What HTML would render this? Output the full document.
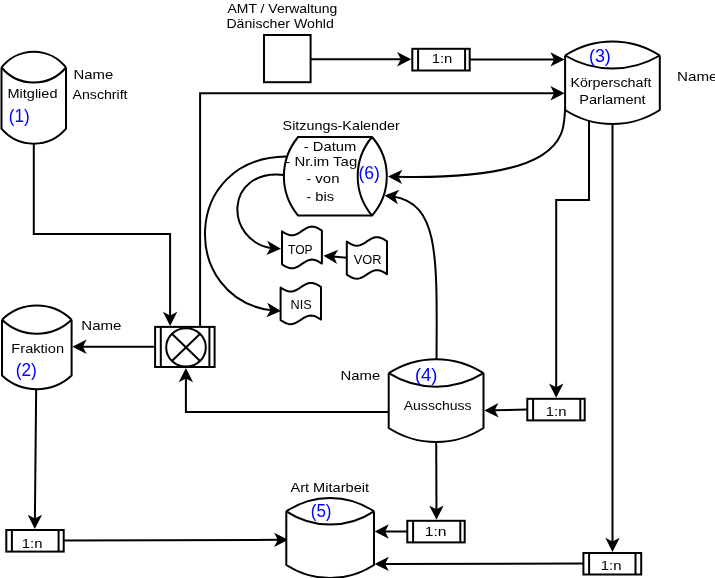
<!DOCTYPE html>
<html><head><meta charset="utf-8"><style>html,body{margin:0;padding:0;background:#fff;overflow:hidden}svg{display:block;will-change:transform}text{font-family:"Liberation Sans",sans-serif}</style></head>
<body><svg width="715" height="578" viewBox="0 0 715 578">
<rect width="715" height="578" fill="#fff"/>
<path d="M33.8 140 L33.8 234 L170.1 234 L170.1 316.9" fill="none" stroke="#000" stroke-width="2" stroke-linejoin="miter"/>
<path d="M170.1 325.9 L162.9 311.7 L170.1 315.4 L177.3 311.7 Z" fill="#000" stroke="none"/>
<path d="M200.1 326.9 L200.1 93.3 L555.6 93.3" fill="none" stroke="#000" stroke-width="2" stroke-linejoin="miter"/>
<path d="M564.6 93.3 L550.4 100.5 L554.1 93.3 L550.4 86.1 Z" fill="#000" stroke="none"/>
<path d="M310.6 59.2 L402.3 59.2" fill="none" stroke="#000" stroke-width="2" stroke-linejoin="miter"/>
<path d="M411.3 59.2 L397.1 66.4 L400.8 59.2 L397.1 52 Z" fill="#000" stroke="none"/>
<path d="M469.7 59.4 L555.6 59.4" fill="none" stroke="#000" stroke-width="2" stroke-linejoin="miter"/>
<path d="M564.6 59.4 L550.4 66.6 L554.1 59.4 L550.4 52.2 Z" fill="#000" stroke="none"/>
<rect x="264" y="35" width="46.6" height="47.2" fill="#fff" stroke="#000" stroke-width="2"/>
<path d="M565.4 108 C561.76 125.62 579.81 180.81 397 176.74" fill="none" stroke="#000" stroke-width="2"/>
<path d="M388 176.5 L402.39 169.69 L398.5 176.78 L402 184.08 Z" fill="#000" stroke="none"/>
<path d="M436.5 366 C437.07 256.17 439.59 204.37 393.45 196.46" fill="none" stroke="#000" stroke-width="2"/>
<path d="M384.5 195.5 L399.39 189.85 L394.94 196.62 L397.85 204.17 Z" fill="#000" stroke="none"/>
<path d="M589 112 L589 200 L556.2 200 L556.2 388.8" fill="none" stroke="#000" stroke-width="2" stroke-linejoin="miter"/>
<path d="M556.2 397.8 L549 383.6 L556.2 387.3 L563.4 383.6 Z" fill="#000" stroke="none"/>
<path d="M612.5 112 L612.5 543" fill="none" stroke="#000" stroke-width="2" stroke-linejoin="miter"/>
<path d="M612.5 552 L605.3 537.8 L612.5 541.5 L619.7 537.8 Z" fill="#000" stroke="none"/>
<path d="M527.3 409.5 L493.3 410.37" fill="none" stroke="#000" stroke-width="2" stroke-linejoin="miter"/>
<path d="M484.3 410.6 L498.31 403.04 L494.8 410.33 L498.68 417.43 Z" fill="#000" stroke="none"/>
<path d="M388.7 412 L185.9 412 L185.9 377" fill="none" stroke="#000" stroke-width="2" stroke-linejoin="miter"/>
<path d="M185.9 368 L193.1 382.2 L185.9 378.5 L178.7 382.2 Z" fill="#000" stroke="none"/>
<path d="M155.1 346.8 L81.4 346.8" fill="none" stroke="#000" stroke-width="2" stroke-linejoin="miter"/>
<path d="M72.4 346.8 L86.6 339.6 L82.9 346.8 L86.6 354 Z" fill="#000" stroke="none"/>
<path d="M36.2 385 L34.89 520" fill="none" stroke="#000" stroke-width="2" stroke-linejoin="miter"/>
<path d="M34.8 529 L27.74 514.73 L34.9 518.5 L42.14 514.87 Z" fill="#000" stroke="none"/>
<path d="M63.7 540.4 L279.3 539.82" fill="none" stroke="#000" stroke-width="2" stroke-linejoin="miter"/>
<path d="M288.3 539.8 L274.12 547.04 L277.8 539.83 L274.08 532.64 Z" fill="#000" stroke="none"/>
<path d="M436.2 440 L436.47 510.8" fill="none" stroke="#000" stroke-width="2" stroke-linejoin="miter"/>
<path d="M436.5 519.8 L429.25 505.63 L436.46 509.3 L443.65 505.57 Z" fill="#000" stroke="none"/>
<path d="M407.3 531.5 L383.6 531.5" fill="none" stroke="#000" stroke-width="2" stroke-linejoin="miter"/>
<path d="M374.6 531.5 L388.8 524.3 L385.1 531.5 L388.8 538.7 Z" fill="#000" stroke="none"/>
<path d="M583.4 563.6 L383.6 563.89" fill="none" stroke="#000" stroke-width="2" stroke-linejoin="miter"/>
<path d="M374.6 563.9 L388.79 556.68 L385.1 563.88 L388.81 571.08 Z" fill="#000" stroke="none"/>
<path d="M286 156.5 C180.72 157.86 180.13 299.52 272.02 310.37" fill="none" stroke="#000" stroke-width="2"/>
<path d="M281 311 L266.33 317.19 L270.53 310.27 L267.34 302.83 Z" fill="#000" stroke="none"/>
<path d="M284 174.9 C223.68 168.58 224.31 241.29 272.01 248.2" fill="none" stroke="#000" stroke-width="2"/>
<path d="M281 248.7 L266.42 255.09 L270.52 248.11 L267.23 240.72 Z" fill="#000" stroke="none"/>
<path d="M346.8 257.7 L332.47 256.47" fill="none" stroke="#000" stroke-width="2" stroke-linejoin="miter"/>
<path d="M323.5 255.7 L338.26 249.74 L333.96 256.6 L337.03 264.09 Z" fill="#000" stroke="none"/>
<path d="M1.5 67.5 A40.81 40.81 0 0 1 66 67.5 L66 128.7 A42.17 42.17 0 0 1 1.5 128.7 Z" fill="#fff" stroke="none"/>
<path d="M1.5 67.5 A40.81 40.81 0 0 1 66 67.5" fill="none" stroke="#000" stroke-width="2" stroke-linejoin="miter"/>
<path d="M1.5 67.5 A42.17 42.17 0 0 0 66 67.5" fill="none" stroke="#000" stroke-width="2" stroke-linejoin="miter"/>
<path d="M1.5 67.5 L1.5 128.7 A42.17 42.17 0 0 0 66 128.7 L66 67.5" fill="none" stroke="#000" stroke-width="2" stroke-linejoin="miter"/>
<path d="M2 319.7 A49.74 49.74 0 0 1 71.6 319.7 L71.6 375.5 A51.05 51.05 0 0 1 2 375.5 Z" fill="#fff" stroke="none"/>
<path d="M2 319.7 A49.74 49.74 0 0 1 71.6 319.7" fill="none" stroke="#000" stroke-width="2" stroke-linejoin="miter"/>
<path d="M2 319.7 A50.25 50.25 0 0 0 71.6 319.7" fill="none" stroke="#000" stroke-width="2" stroke-linejoin="miter"/>
<path d="M2 319.7 L2 375.5 A51.05 51.05 0 0 0 71.6 375.5 L71.6 319.7" fill="none" stroke="#000" stroke-width="2" stroke-linejoin="miter"/>
<path d="M565.1 55.5 A87.07 87.07 0 0 1 659.8 55.5 L659.8 110 A87.07 87.07 0 0 1 565.1 110 Z" fill="#fff" stroke="none"/>
<path d="M565.1 55.5 A87.07 87.07 0 0 1 659.8 55.5" fill="none" stroke="#000" stroke-width="2" stroke-linejoin="miter"/>
<path d="M565.1 55.5 A92.73 92.73 0 0 0 659.8 55.5" fill="none" stroke="#000" stroke-width="2" stroke-linejoin="miter"/>
<path d="M565.1 55.5 L565.1 110 A87.07 87.07 0 0 0 659.8 110 L659.8 55.5" fill="none" stroke="#000" stroke-width="2" stroke-linejoin="miter"/>
<path d="M388.7 373.2 A87.24 87.24 0 0 1 483.5 373.2 L483.5 428 A87.24 87.24 0 0 1 388.7 428 Z" fill="#fff" stroke="none"/>
<path d="M388.7 373.2 A87.24 87.24 0 0 1 483.5 373.2" fill="none" stroke="#000" stroke-width="2" stroke-linejoin="miter"/>
<path d="M388.7 373.2 A89.96 89.96 0 0 0 483.5 373.2" fill="none" stroke="#000" stroke-width="2" stroke-linejoin="miter"/>
<path d="M388.7 373.2 L388.7 428 A87.24 87.24 0 0 0 483.5 428 L483.5 373.2" fill="none" stroke="#000" stroke-width="2" stroke-linejoin="miter"/>
<path d="M286.3 511.3 A78.45 78.45 0 0 1 374 511.3 L374 565 A80.45 80.45 0 0 1 286.3 565 Z" fill="#fff" stroke="none"/>
<path d="M286.3 511.3 A78.45 78.45 0 0 1 374 511.3" fill="none" stroke="#000" stroke-width="2" stroke-linejoin="miter"/>
<path d="M286.3 511.3 A79.43 79.43 0 0 0 374 511.3" fill="none" stroke="#000" stroke-width="2" stroke-linejoin="miter"/>
<path d="M286.3 511.3 L286.3 565 A80.45 80.45 0 0 0 374 565 L374 511.3" fill="none" stroke="#000" stroke-width="2" stroke-linejoin="miter"/>
<path d="M298.1 137 L372 137 A59.58 59.58 0 0 1 372 215.6 L298.1 215.6 A61.48 61.48 0 0 1 298.1 137 Z" fill="#fff" stroke="#000" stroke-width="2"/>
<path d="M372 137 A61.15 61.15 0 0 0 372 215.6" fill="none" stroke="#000" stroke-width="2" stroke-linejoin="miter"/>
<rect x="155.1" y="326.9" width="59.5" height="40.10000000000002" fill="#fff" stroke="#000" stroke-width="2"/>
<path d="M160.8 326.9 L160.8 367 M209.4 326.9 L209.4 367" fill="none" stroke="#000" stroke-width="2" stroke-linejoin="miter"/>
<ellipse cx="186" cy="347.4" rx="19.8" ry="19.2" fill="#fff" stroke="#000" stroke-width="2"/>
<path d="M171.9 333.8 L200.1 361 M200.1 333.8 L171.9 361" fill="none" stroke="#000" stroke-width="2" stroke-linejoin="miter"/>
<rect x="412.3" y="48.8" width="57.39999999999998" height="21.700000000000003" fill="#fff" stroke="#000" stroke-width="2"/>
<path d="M418.1 48.8 L418.1 70.5 M465.1 48.8 L465.1 70.5" fill="none" stroke="#000" stroke-width="2" stroke-linejoin="miter"/>
<rect x="527.3" y="398.8" width="57.40000000000009" height="21.599999999999966" fill="#fff" stroke="#000" stroke-width="2"/>
<path d="M533.1 398.8 L533.1 420.4 M580.3 398.8 L580.3 420.4" fill="none" stroke="#000" stroke-width="2" stroke-linejoin="miter"/>
<rect x="6.3" y="530" width="57.400000000000006" height="21.600000000000023" fill="#fff" stroke="#000" stroke-width="2"/>
<path d="M11.9 530 L11.9 551.6 M58.6 530 L58.6 551.6" fill="none" stroke="#000" stroke-width="2" stroke-linejoin="miter"/>
<rect x="407.3" y="520.8" width="57.39999999999998" height="21.600000000000023" fill="#fff" stroke="#000" stroke-width="2"/>
<path d="M413.1 520.8 L413.1 542.4 M460.3 520.8 L460.3 542.4" fill="none" stroke="#000" stroke-width="2" stroke-linejoin="miter"/>
<rect x="583.4" y="553" width="57.80000000000007" height="21.5" fill="#fff" stroke="#000" stroke-width="2"/>
<path d="M589.1 553 L589.1 574.5 M635.5 553 L635.5 574.5" fill="none" stroke="#000" stroke-width="2" stroke-linejoin="miter"/>
<path d="M282 231.3 L283.66 232.36 L285.32 233.34 L286.99 234.18 L288.65 234.82 L290.31 235.21 L291.98 235.32 L293.64 235.15 L295.3 234.7 L296.96 234.01 L298.62 233.11 L300.29 232.07 L301.95 230.95 L303.61 229.83 L305.27 228.79 L306.94 227.89 L308.6 227.2 L310.26 226.75 L311.92 226.58 L313.59 226.69 L315.25 227.08 L316.91 227.72 L318.57 228.56 L320.24 229.54 L321.9 230.6 L321.9 263.6 L320.24 262.54 L318.57 261.56 L316.91 260.72 L315.25 260.08 L313.59 259.69 L311.92 259.58 L310.26 259.75 L308.6 260.2 L306.94 260.89 L305.27 261.79 L303.61 262.83 L301.95 263.95 L300.29 265.07 L298.62 266.11 L296.96 267.01 L295.3 267.7 L293.64 268.15 L291.98 268.32 L290.31 268.21 L288.65 267.82 L286.99 267.18 L285.32 266.34 L283.66 265.36 L282 264.3 Z" fill="#fff" stroke="#000" stroke-width="2" stroke-linejoin="round"/>
<path d="M346.8 241.6 L348.48 242.67 L350.15 243.67 L351.82 244.53 L353.5 245.19 L355.18 245.59 L356.85 245.72 L358.53 245.57 L360.2 245.14 L361.88 244.46 L363.55 243.57 L365.23 242.55 L366.9 241.45 L368.57 240.35 L370.25 239.33 L371.93 238.44 L373.6 237.76 L375.27 237.33 L376.95 237.18 L378.62 237.31 L380.3 237.71 L381.98 238.37 L383.65 239.23 L385.32 240.23 L387 241.3 L387 274.3 L385.32 273.23 L383.65 272.23 L381.98 271.37 L380.3 270.71 L378.62 270.31 L376.95 270.18 L375.27 270.33 L373.6 270.76 L371.93 271.44 L370.25 272.33 L368.57 273.35 L366.9 274.45 L365.23 275.55 L363.55 276.57 L361.88 277.46 L360.2 278.14 L358.53 278.57 L356.85 278.73 L355.18 278.59 L353.5 278.19 L351.82 277.53 L350.15 276.67 L348.48 275.67 L346.8 274.6 Z" fill="#fff" stroke="#000" stroke-width="2" stroke-linejoin="round"/>
<path d="M280.6 287.5 L282.28 288.57 L283.97 289.56 L285.65 290.41 L287.33 291.05 L289.02 291.45 L290.7 291.57 L292.38 291.41 L294.07 290.97 L295.75 290.28 L297.43 289.39 L299.12 288.36 L300.8 287.25 L302.48 286.14 L304.17 285.11 L305.85 284.22 L307.53 283.53 L309.22 283.09 L310.9 282.93 L312.58 283.05 L314.27 283.45 L315.95 284.09 L317.63 284.94 L319.32 285.93 L321 287 L321 319.6 L319.32 318.53 L317.63 317.54 L315.95 316.69 L314.27 316.05 L312.58 315.65 L310.9 315.53 L309.22 315.69 L307.53 316.13 L305.85 316.82 L304.17 317.71 L302.48 318.74 L300.8 319.85 L299.12 320.96 L297.43 321.99 L295.75 322.88 L294.07 323.57 L292.38 324.01 L290.7 324.18 L289.02 324.05 L287.33 323.65 L285.65 323.01 L283.97 322.16 L282.28 321.17 L280.6 320.1 Z" fill="#fff" stroke="#000" stroke-width="2" stroke-linejoin="round"/>
<text x="7.48" y="98" font-size="13" fill="#000" textLength="50.01" lengthAdjust="spacingAndGlyphs">Mitglied</text>
<text x="73.55" y="78.7" font-size="13" fill="#000" textLength="39.73" lengthAdjust="spacingAndGlyphs">Name</text>
<text x="72.50" y="99.4" font-size="13" fill="#000" textLength="55.04" lengthAdjust="spacingAndGlyphs">Anschrift</text>
<text x="8.82" y="122.1" font-size="17.5" fill="#00f" textLength="20.94" lengthAdjust="spacingAndGlyphs">(1)</text>
<text x="227.50" y="12.5" font-size="13" fill="#000" textLength="109.90" lengthAdjust="spacingAndGlyphs">AMT / Verwaltung</text>
<text x="226.41" y="28" font-size="13" fill="#000" textLength="107.42" lengthAdjust="spacingAndGlyphs">Dänischer Wohld</text>
<text x="282.60" y="130" font-size="13" fill="#000" textLength="117.16" lengthAdjust="spacingAndGlyphs">Sitzungs-Kalender</text>
<text x="303.76" y="151" font-size="13" fill="#000" textLength="52.50" lengthAdjust="spacingAndGlyphs">- Datum</text>
<text x="285.25" y="165.8" font-size="13" fill="#000" textLength="71.95" lengthAdjust="spacingAndGlyphs">- Nr.im Tag</text>
<text x="306.25" y="182.9" font-size="13" fill="#000" textLength="33.19" lengthAdjust="spacingAndGlyphs">- von</text>
<text x="306.27" y="200.5" font-size="13" fill="#000" textLength="27.77" lengthAdjust="spacingAndGlyphs">- bis</text>
<text x="358.40" y="179" font-size="17.5" fill="#00f" textLength="21.39" lengthAdjust="spacingAndGlyphs">(6)</text>
<text x="588.98" y="61.9" font-size="17.5" fill="#00f" textLength="21.84" lengthAdjust="spacingAndGlyphs">(3)</text>
<text x="570.40" y="87.3" font-size="13" fill="#000" textLength="80.97" lengthAdjust="spacingAndGlyphs">Körperschaft</text>
<text x="579.18" y="103.8" font-size="13" fill="#000" textLength="66.50" lengthAdjust="spacingAndGlyphs">Parlament</text>
<text x="677.03" y="81" font-size="13" fill="#000" textLength="40.47" lengthAdjust="spacingAndGlyphs">Name</text>
<text x="288.10" y="253.8" font-size="12" fill="#000" textLength="24.56" lengthAdjust="spacingAndGlyphs">TOP</text>
<text x="353.70" y="263.7" font-size="12" fill="#000" textLength="27.78" lengthAdjust="spacingAndGlyphs">VOR</text>
<text x="290.64" y="308.8" font-size="12" fill="#000" textLength="21.17" lengthAdjust="spacingAndGlyphs">NIS</text>
<text x="81.34" y="330" font-size="13" fill="#000" textLength="40.15" lengthAdjust="spacingAndGlyphs">Name</text>
<text x="11.38" y="353" font-size="13" fill="#000" textLength="52.71" lengthAdjust="spacingAndGlyphs">Fraktion</text>
<text x="15.71" y="376.1" font-size="17.5" fill="#00f" textLength="21.17" lengthAdjust="spacingAndGlyphs">(2)</text>
<text x="340.55" y="380" font-size="13" fill="#000" textLength="39.73" lengthAdjust="spacingAndGlyphs">Name</text>
<text x="414.95" y="381.1" font-size="17.5" fill="#00f" textLength="22.52" lengthAdjust="spacingAndGlyphs">(4)</text>
<text x="403.70" y="410" font-size="13" fill="#000" textLength="67.95" lengthAdjust="spacingAndGlyphs">Ausschuss</text>
<text x="290.40" y="492.4" font-size="13" fill="#000" textLength="78.69" lengthAdjust="spacingAndGlyphs">Art Mitarbeit</text>
<text x="310.73" y="516.9" font-size="17.5" fill="#00f" textLength="20.83" lengthAdjust="spacingAndGlyphs">(5)</text>
<text x="431.66" y="62.6" font-size="12" fill="#000" textLength="20.69" lengthAdjust="spacingAndGlyphs">1:n</text>
<text x="545.76" y="415.7" font-size="12" fill="#000" textLength="20.69" lengthAdjust="spacingAndGlyphs">1:n</text>
<text x="21.76" y="547.7" font-size="12" fill="#000" textLength="20.69" lengthAdjust="spacingAndGlyphs">1:n</text>
<text x="424.69" y="536.1" font-size="12" fill="#000" textLength="21.81" lengthAdjust="spacingAndGlyphs">1:n</text>
<text x="600.76" y="569.7" font-size="12" fill="#000" textLength="20.69" lengthAdjust="spacingAndGlyphs">1:n</text>
</svg></body></html>
